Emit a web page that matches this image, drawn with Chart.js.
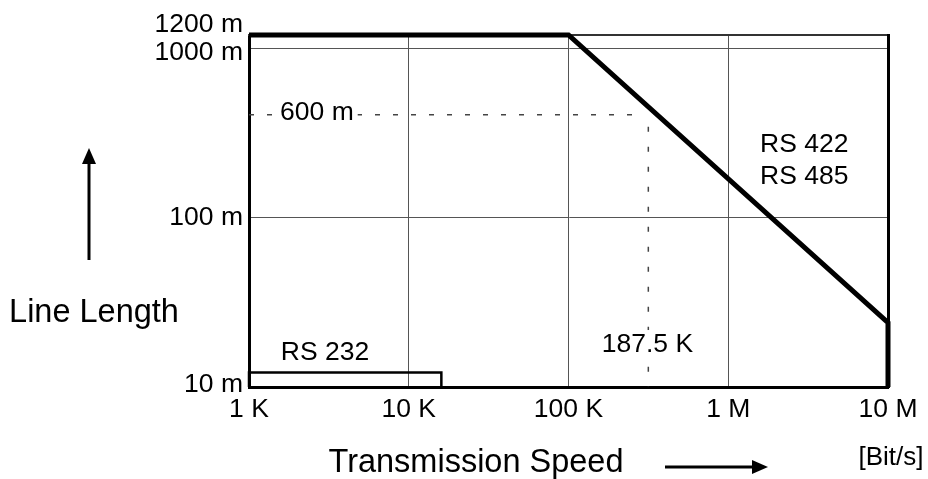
<!DOCTYPE html>
<html><head><meta charset="utf-8">
<script src="https://cdn.jsdelivr.net/npm/chart.js@4"></script>
<style>html,body{margin:0;padding:0;background:#fff}#wrap{width:928px;height:479px}</style>
</head><body><div id="wrap"><canvas id="c" width="928" height="479"></canvas></div>
<script>
// ---- data ----
const speedTicks = [1e3, 1e4, 1e5, 1e6, 1e7];
const speedLabels = ['1 K', '10 K', '100 K', '1 M', '10 M'];
const lengthTicks = [10, 100, 1000, 1200];
const lengthLabels = ['10 m', '100 m', '1000 m', '1200 m'];
const lengthGrid = [100, 1000];

const rs485Speed = [1e3, 1e5, 1e7, 1e7];
const rs485Length = [1200, 1200, 24, 10];

const rs232Speed = [1e3, 1e3, 16000, 16000];
const rs232Length = [10, 12.2, 12.2, 10];

const refLengthSpeed = [1e3, 2.8e5];
const refLengthValue = [406, 406];
const refSpeedSpeed = [3.16e5, 3.16e5];
const refSpeedValue = [345, 10];

const noteTexts = ['600 m', '187.5 K', 'RS 232', 'RS 422', 'RS 485'];
const noteSpeed = [2.66e3, 3.12e5, 2.99e3, 2.99e6, 2.99e6];
const noteLength = [418, 17.7, 15.9, 270, 175];
const noteBoxed = [true, true, false, false, false];

const yTitle = 'Line Length';
const xTitle = 'Transmission Speed';
const unitText = '[Bit/s]';

const pts = (xs, ys) => xs.map((x, i) => ({x: x, y: ys[i]}));
const FONT = '"Liberation Sans", Arial, sans-serif';

const overlay = {
  id: 'overlay',
  afterDatasetsDraw(chart) {
    const ctx = chart.ctx, xs = chart.scales.x, ys = chart.scales.y;
    ctx.save();
    ctx.fillStyle = '#000';
    ctx.font = '26.5px ' + FONT;
    // y tick labels
    ctx.textAlign = 'right'; ctx.textBaseline = 'middle';
    lengthTicks.forEach((v, i) => {
      let py = ys.getPixelForValue(v);
      if (v === 1200) py -= 10;
      if (v === 1000) py += 4;
      if (v === 10) py -= 2;
      ctx.fillText(lengthLabels[i], 243, py);
    });
    // notes
    ctx.textAlign = 'center';
    noteTexts.forEach((t, i) => {
      const px = xs.getPixelForValue(noteSpeed[i]);
      const py = ys.getPixelForValue(noteLength[i]);
      if (noteBoxed[i]) {
        const w = ctx.measureText(t).width;
        ctx.fillStyle = '#fff';
        ctx.fillRect(px - w / 2 - 4, py - 15, w + 8, 30);
        ctx.fillStyle = '#000';
      }
      ctx.fillText(t, px, py);
    });
    // axis titles
    ctx.font = '32.5px ' + FONT;
    ctx.fillText(yTitle, 94, 313);
    ctx.fillText(xTitle, 476, 463);
    ctx.font = '26px ' + FONT;
    ctx.fillText(unitText, 891, 458);
    // arrows
    ctx.strokeStyle = '#000'; ctx.lineWidth = 3;
    ctx.beginPath(); ctx.moveTo(89, 260); ctx.lineTo(89, 162); ctx.stroke();
    ctx.beginPath(); ctx.moveTo(89, 148); ctx.lineTo(82, 164); ctx.lineTo(96, 164); ctx.closePath(); ctx.fill();
    ctx.beginPath(); ctx.moveTo(665, 467); ctx.lineTo(754, 467); ctx.stroke();
    ctx.beginPath(); ctx.moveTo(768, 467); ctx.lineTo(752, 460); ctx.lineTo(752, 474); ctx.closePath(); ctx.fill();
    ctx.restore();
  }
};

new Chart(document.getElementById('c'), {
  type: 'line',
  data: {
    datasets: [
      {data: pts(refLengthSpeed, refLengthValue), borderColor: '#444', borderWidth: 1.5, borderDash: [5, 13], pointRadius: 0, clip: false, order: 3},
      {data: pts(refSpeedSpeed, refSpeedValue), borderColor: '#444', borderWidth: 1.5, borderDash: [5, 15], pointRadius: 0, clip: false, order: 3},
      {data: pts(rs232Speed, rs232Length), borderColor: '#000', borderWidth: 2.5, pointRadius: 0, clip: false, order: 2, borderJoinStyle: 'miter'},
      {data: pts(rs485Speed, rs485Length), borderColor: '#000', borderWidth: 5, pointRadius: 0, clip: false, order: 1, borderJoinStyle: 'miter'}
    ]
  },
  options: {
    responsive: false,
    animation: false,
    devicePixelRatio: 1,
    layout: {padding: {left: 0, right: 40, top: 35, bottom: 0}},
    plugins: {legend: {display: false}, tooltip: {enabled: false}},
    elements: {line: {tension: 0}},
    scales: {
      x: {
        type: 'logarithmic', min: 1e3, max: 1e7, position: 'bottom',
        afterBuildTicks: s => { s.ticks = speedTicks.map(v => ({value: v})); },
        afterFit: s => { s.height = 92; },
        ticks: {
          autoSkip: false, maxRotation: 0, padding: 7, color: '#000',
          font: {family: FONT, size: 26.5},
          callback: (v) => speedLabels[speedTicks.indexOf(v)]
        },
        grid: {color: '#555', lineWidth: 1, drawTicks: false},
        border: {color: '#000', width: 3}
      },
      y: {
        type: 'logarithmic', min: 10, max: 1200, position: 'left',
        afterBuildTicks: s => { s.ticks = lengthGrid.map(v => ({value: v})); },
        afterFit: s => { s.width = 249; },
        ticks: {display: false},
        grid: {color: '#555', lineWidth: 1, drawTicks: false},
        border: {color: '#000', width: 3}
      },
      x2: {
        type: 'logarithmic', min: 1e3, max: 1e7, position: 'top',
        afterFit: s => { s.height = 0; },
        ticks: {display: false}, grid: {display: false, drawTicks: false},
        border: {color: '#333', width: 2}
      },
      y2: {
        type: 'logarithmic', min: 10, max: 1200, position: 'right',
        afterFit: s => { s.width = 0; },
        ticks: {display: false}, grid: {display: false, drawTicks: false},
        border: {color: '#000', width: 3}
      }
    }
  },
  plugins: [overlay]
});
</script></body></html>
